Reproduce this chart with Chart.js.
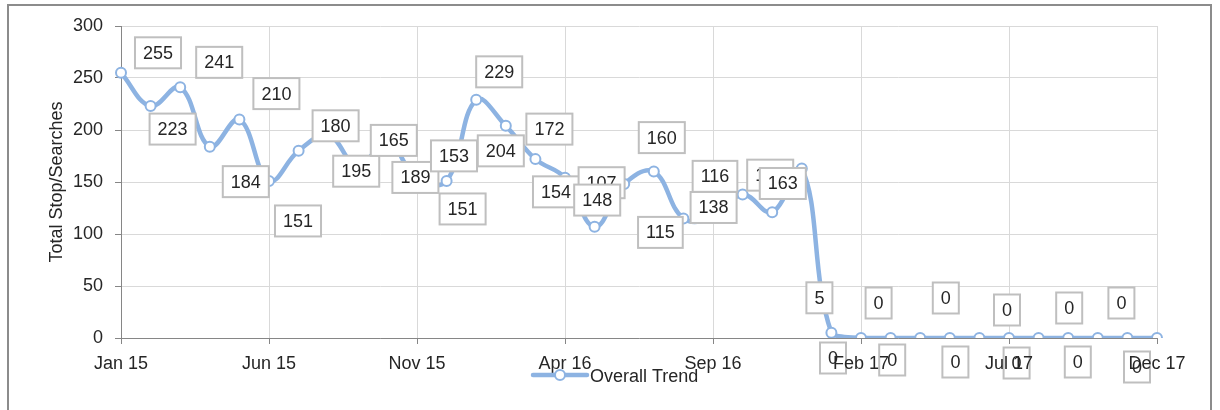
<!DOCTYPE html>
<html>
<head>
<meta charset="utf-8">
<script src="https://cdn.jsdelivr.net/npm/chart.js@4.4.1/dist/chart.umd.min.js"></script>
<style>
  html, body { margin: 0; padding: 0; background: #fff; }
  #wrap {
    position: absolute; left: 7px; top: 4px; width: 1205px; height: 410px;
    border: 2px solid #8c8c8c; border-bottom: none; box-sizing: border-box;
  }
  #trendChart { position: absolute; left: 0; top: 0; }
</style>
</head>
<body>
<div id="wrap"></div>
<canvas id="trendChart" width="1220" height="410"></canvas>
<script>
// Monthly stop/search totals, Jan 2015 - Dec 2017
const months = [
  'Jan 15', 'Feb 15', 'Mar 15', 'Apr 15', 'May 15', 'Jun 15',
  'Jul 15', 'Aug 15', 'Sep 15', 'Oct 15', 'Nov 15', 'Dec 15',
  'Jan 16', 'Feb 16', 'Mar 16', 'Apr 16', 'May 16', 'Jun 16',
  'Jul 16', 'Aug 16', 'Sep 16', 'Oct 16', 'Nov 16', 'Dec 16',
  'Jan 17', 'Feb 17', 'Mar 17', 'Apr 17', 'May 17', 'Jun 17',
  'Jul 17', 'Aug 17', 'Sep 17', 'Oct 17', 'Nov 17', 'Dec 17'
];
const trendValues = [
  255, 223, 241, 184, 210, 151, 180, 195, 165, 189, 153, 151,
  229, 204, 172, 154, 107, 148, 160, 115, 116, 138, 121, 163,
  5, 0, 0, 0, 0, 0, 0, 0, 0, 0, 0, 0
];
const shownTicks = ['Jan 15', 'Jun 15', 'Nov 15', 'Apr 16', 'Sep 16', 'Feb 17', 'Jul 17', 'Dec 17'];
const yTicks = [0, 50, 100, 150, 200, 250, 300];

// where each value box sits relative to its point (px)
const labelNudge = [
  [37, -20], [22, 23], [39, -25], [36, 35], [37, -26], [29, 40],
  [37, -25], [28, 36], [36, -26], [28, 36], [37, -23], [16, 28],
  [23, -28], [-5, 25], [14, -30], [-9, 14], [7, -44], [-27, 16],
  [8, -34], [-23, 14], [2, -41], [-29, 13], [-2, -37], [-19, 15],
  [-12, -35], [-28, 20], [-12, -35], [-28, 22], [-4, -40], [-24, 24],
  [-2, -28], [-22, 25], [1, -30], [-20, 24], [-6, -35], [-20, 29]
];

const FONT = '"Liberation Sans", Arial, sans-serif';
const TEXT = '#262626';
const LINE = '#8db3e2';

const valueBoxes = {
  id: 'valueBoxes',
  afterDatasetsDraw(chart) {
    const ctx = chart.ctx;
    const meta = chart.getDatasetMeta(0);
    ctx.save();
    ctx.font = '18px ' + FONT;
    ctx.textAlign = 'center';
    ctx.textBaseline = 'middle';
    meta.data.forEach((pt, i) => {
      const txt = String(trendValues[i]);
      const cx = pt.x + labelNudge[i][0];
      const cy = pt.y + labelNudge[i][1];
      const w = ctx.measureText(txt).width + 16;
      const h = 31;
      ctx.fillStyle = '#fff';
      ctx.fillRect(cx - w / 2, cy - h / 2, w, h);
      ctx.strokeStyle = '#bfbfbf';
      ctx.lineWidth = 2;
      ctx.strokeRect(cx - w / 2, cy - h / 2, w, h);
      ctx.fillStyle = TEXT;
      ctx.fillText(txt, cx, cy + 1);
    });
    ctx.restore();
  }
};

// Excel-style legend sitting over the axis labels
const trendLegend = {
  id: 'trendLegend',
  afterDraw(chart) {
    const ctx = chart.ctx;
    const y = 375;
    ctx.save();
    ctx.strokeStyle = LINE;
    ctx.lineWidth = 4.5;
    ctx.lineCap = 'round';
    ctx.beginPath();
    ctx.moveTo(533, y);
    ctx.lineTo(587, y);
    ctx.stroke();
    ctx.beginPath();
    ctx.arc(560, y, 5, 0, Math.PI * 2);
    ctx.fillStyle = '#fff';
    ctx.fill();
    ctx.lineWidth = 2;
    ctx.stroke();
    ctx.font = '18px ' + FONT;
    ctx.fillStyle = TEXT;
    ctx.textBaseline = 'middle';
    ctx.fillText(chart.data.datasets[0].label, 590, y + 2);
    ctx.restore();
  }
};

const gridColor = '#d9d9d9';
const axisColor = '#868686';

new Chart(document.getElementById('trendChart'), {
  type: 'line',
  data: {
    labels: months,
    datasets: [{
      label: 'Overall Trend',
      data: trendValues,
      borderColor: LINE,
      borderWidth: 4.5,
      tension: 0.4,
      pointRadius: 5,
      pointBorderWidth: 2,
      pointBackgroundColor: '#fff',
      pointBorderColor: LINE
    }]
  },
  options: {
    responsive: false,
    animation: false,
    layout: { padding: { left: 41, top: 26, right: 63, bottom: 30 } },
    plugins: {
      legend: { display: false },
      tooltip: { enabled: false }
    },
    scales: {
      x: {
        offset: false,
        afterFit: (scale) => { scale.height = 42; },
        grid: {
          offset: false,
          color: (c) => shownTicks.includes(months[c.index]) ? gridColor : 'transparent',
          tickColor: (c) => shownTicks.includes(months[c.index]) ? axisColor : 'transparent',
          tickLength: 6
        },
        border: { color: axisColor, width: 1 },
        ticks: {
          z: 1,
          autoSkip: false,
          maxRotation: 0,
          padding: 9,
          color: TEXT,
          font: { family: FONT, size: 18 },
          callback: function(value, index) {
            return shownTicks.includes(months[index]) ? months[index] : '';
          }
        }
      },
      y: {
        min: yTicks[0],
        max: yTicks[yTicks.length - 1],
        afterFit: (scale) => { scale.width = 80; },
        afterBuildTicks: (scale) => { scale.ticks = yTicks.map(v => ({ value: v })); },
        grid: { color: gridColor, tickColor: axisColor, tickLength: 6 },
        border: { color: axisColor, width: 1 },
        ticks: {
          padding: 12,
          color: TEXT,
          font: { family: FONT, size: 18 }
        },
        title: {
          display: true,
          text: 'Total Stop/Searches',
          color: TEXT,
          font: { family: FONT, size: 18 },
          padding: { top: 5, bottom: 4 }
        }
      }
    }
  },
  plugins: [valueBoxes, trendLegend]
});
</script>
</body>
</html>
